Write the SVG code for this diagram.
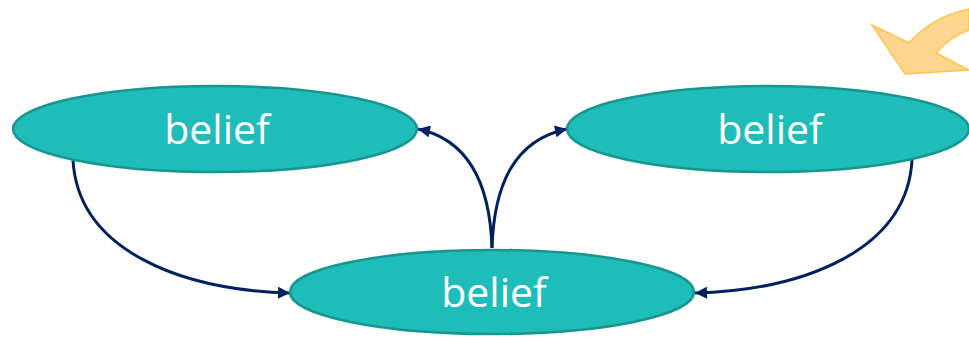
<svg xmlns="http://www.w3.org/2000/svg" width="969" height="338" viewBox="0 0 969 338">
<defs>
<style>
.node{fill:#1FBDBA;stroke:#17968F;stroke-width:2.5}
.lbl{font-family:"Open Sans","Noto Sans",sans-serif;font-size:41px;fill:#FFFFFF;text-anchor:middle}
.edge{fill:none;stroke:#002060;stroke-width:3}
</style>
<marker id="ah" viewBox="0 0 12 12" refX="12" refY="6" markerWidth="13" markerHeight="12" markerUnits="userSpaceOnUse" orient="auto">
<path d="M0,0 L12,6 L0,12 Z" fill="#002060"/>
</marker>
</defs>
<g id="deco">
<path d="M872,25 L909,43 C925,25 945,14 969,9 L969,30 C955,35 945,43 936,53 L969,70 L905,74 Z" fill="#FFD68F" stroke="#FFC44D" stroke-width="1.5"/>
</g>
<g id="connectors">
<path class="edge" d="M73,160 C78,250 180,290 290,293" marker-end="url(#ah)"/>
<path class="edge" d="M912,160 C907,250 805,290 695,293" marker-end="url(#ah)"/>
<path class="edge" d="M492,248 C490,185 470,140 418,129" marker-end="url(#ah)"/>
<path class="edge" d="M492,248 C494,185 514,140 567,129" marker-end="url(#ah)"/>
</g>
<g id="node-left">
<ellipse class="node" cx="215" cy="129" rx="202" ry="43"/>
<text class="lbl" x="217" y="144">belief</text>
</g>
<g id="node-right">
<ellipse class="node" cx="768" cy="129" rx="201" ry="43"/>
<text class="lbl" x="770" y="144">belief</text>
</g>
<g id="node-bottom">
<ellipse class="node" cx="492" cy="292" rx="202" ry="42"/>
<text class="lbl" x="494" y="307">belief</text>
</g>
</svg>
